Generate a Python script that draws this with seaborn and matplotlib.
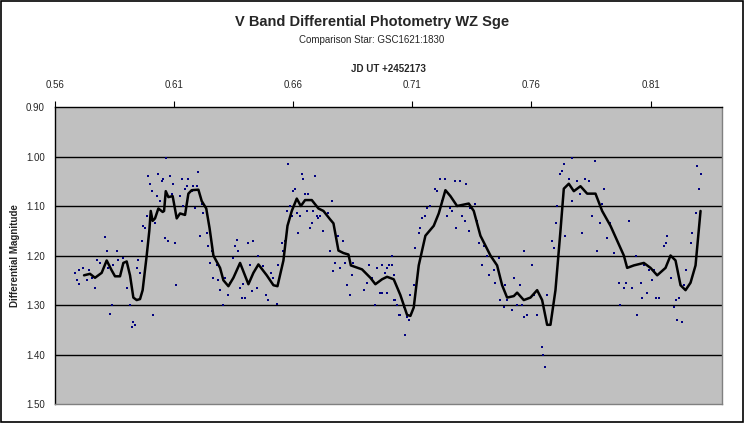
import numpy as np
import pandas as pd
import matplotlib
matplotlib.use('Agg')
import matplotlib.pyplot as plt
import seaborn as sns

# Points individuels (JD - 2452173, magnitude differentielle)
pts_x = [0.5684, 0.5691, 0.5702, 0.5700, 0.5719, 0.5733, 0.5744, 0.5754, 0.5768, 0.5775,
         0.5789, 0.5810, 0.5817, 0.5824, 0.5831, 0.5838, 0.5845, 0.5859, 0.5866, 0.5887,
         0.5901, 0.5915, 0.5922, 0.5929, 0.5936, 0.5943, 0.5950, 0.5957, 0.5964, 0.5971,
         0.5978, 0.5985, 0.5992, 0.5999, 0.6006, 0.6013, 0.6020, 0.6027, 0.6034, 0.6041,
         0.6048, 0.6055, 0.6062, 0.6066, 0.6076, 0.6083, 0.6090, 0.6097, 0.6104, 0.6108,
         0.6125, 0.6132, 0.6139, 0.6146, 0.6153, 0.6160, 0.6174, 0.6181, 0.6188, 0.6195,
         0.6202, 0.6209, 0.6216, 0.6223, 0.6237, 0.6244, 0.6251, 0.6258, 0.6265, 0.6279,
         0.6286, 0.6293, 0.6305, 0.6314, 0.6328, 0.6335, 0.6349, 0.6356, 0.6363, 0.6370,
         0.6377, 0.6384, 0.6391, 0.6398, 0.6412, 0.6419, 0.6426, 0.6433, 0.6447, 0.6454,
         0.6475, 0.6487, 0.6496, 0.6506, 0.6517, 0.6531, 0.6538, 0.6552, 0.6559, 0.6566,
         0.6573, 0.6580, 0.6587, 0.6594, 0.6601, 0.6608, 0.6615, 0.6622, 0.6629, 0.6636,
         0.6643, 0.6650, 0.6657, 0.6664, 0.6671, 0.6678, 0.6685, 0.6692, 0.6699, 0.6706,
         0.6713, 0.6727, 0.6748, 0.6755, 0.6762, 0.6769, 0.6776, 0.6790, 0.6797, 0.6811,
         0.6818, 0.6825, 0.6839, 0.6846, 0.6853, 0.6896, 0.6910, 0.6917, 0.6931, 0.6945,
         0.6952, 0.6966, 0.6973, 0.6994, 0.7015, 0.7022, 0.7029, 0.7036, 0.7043,
         0.6973, 0.6987, 0.6994, 0.7001, 0.7015, 0.7022, 0.7036, 0.7050, 0.7064, 0.7071,
         0.7078, 0.7085, 0.7092, 0.7106, 0.7113, 0.7127, 0.7134, 0.7141, 0.7155, 0.7162,
         0.7176, 0.7197, 0.7204, 0.7218, 0.7225, 0.7239, 0.7246, 0.7260, 0.7267, 0.7281,
         0.7285, 0.7302, 0.7309, 0.7323, 0.7327, 0.7337, 0.7344, 0.7365, 0.7372, 0.7379,
         0.7393, 0.7400, 0.7414, 0.7421, 0.7442, 0.7449, 0.7463, 0.7470, 0.7484, 0.7491,
         0.7498, 0.7519, 0.7526, 0.7540, 0.7554, 0.7561, 0.7568, 0.7568, 0.7582, 0.7603,
         0.7610, 0.7624, 0.7645, 0.7648, 0.7655, 0.7666, 0.7687, 0.7694, 0.7705, 0.7708,
         0.7719, 0.7729, 0.7736, 0.7743, 0.7757, 0.7771, 0.7771, 0.7778, 0.7792, 0.7806,
         0.7813, 0.7827, 0.7841, 0.7855, 0.7869, 0.7876, 0.7890, 0.7897, 0.7904, 0.7918,
         0.7932, 0.7946, 0.7967, 0.7974, 0.7988, 0.7995, 0.8009, 0.8023, 0.8037, 0.8044,
         0.8058, 0.8065, 0.8072, 0.8086, 0.8093, 0.8107, 0.8114, 0.8121, 0.8135, 0.8156,
         0.8163, 0.8170, 0.8184, 0.8198, 0.8205, 0.8212, 0.8219, 0.8233, 0.8240, 0.8247,
         0.8268, 0.8275, 0.8289, 0.8294, 0.8303, 0.8310]
pts_y = [1.235, 1.25, 1.23, 1.258, 1.225, 1.25, 1.23, 1.245, 1.265, 1.21,
         1.215, 1.163, 1.19, 1.225, 1.318, 1.30, 1.22, 1.19, 1.21, 1.205,
         1.265, 1.30, 1.345, 1.335, 1.34, 1.225, 1.21, 1.235, 1.17, 1.14,
         1.145, 1.12, 1.04, 1.055, 1.07, 1.32, 1.135, 1.08, 1.035, 1.09,
         1.05, 1.045, 1.165, 1.003, 1.17, 1.04, 1.075, 1.055, 1.175, 1.26,
         1.08, 1.045, 1.10, 1.065, 1.06, 1.045, 1.07, 1.06, 1.105, 1.06,
         1.032, 1.16, 1.095, 1.115, 1.155, 1.18, 1.215, 1.19, 1.245, 1.22,
         1.25, 1.27, 1.30, 1.245, 1.28, 1.255, 1.205, 1.18, 1.168, 1.19,
         1.265, 1.285, 1.258, 1.285, 1.175, 1.22, 1.272, 1.17, 1.265, 1.20,
         1.222, 1.28, 1.29, 1.235, 1.245, 1.298, 1.22, 1.175, 1.19, 1.17,
         1.11, 1.015, 1.10, 1.12, 1.07, 1.065, 1.115, 1.155, 1.12, 1.035,
         1.045, 1.075, 1.11, 1.075, 1.145, 1.135, 1.11, 1.04, 1.12, 1.125,
         1.12, 1.15, 1.115, 1.19, 1.09, 1.232, 1.215, 1.16, 1.225, 1.17,
         1.215, 1.26, 1.28, 1.24, 1.215, 1.27, 1.255, 1.22, 1.245, 1.30,
         1.225, 1.275, 1.275, 1.225, 1.22, 1.24, 1.29, 1.30, 1.32,
         1.22, 1.235, 1.275, 1.22, 1.20, 1.29, 1.30, 1.32, 1.305, 1.36,
         1.325, 1.33, 1.28, 1.26, 1.185, 1.155, 1.145, 1.125, 1.12, 1.105,
         1.10, 1.065, 1.07, 1.045, 1.09, 1.045, 1.12, 1.105, 1.11, 1.05,
         1.145, 1.05, 1.12, 1.13, 1.055, 1.15, 1.105, 1.095, 1.13, 1.175,
         1.22, 1.18, 1.20, 1.24, 1.23, 1.255, 1.205, 1.29, 1.305, 1.26,
         1.29, 1.31, 1.245, 1.30, 1.26, 1.30, 1.325, 1.19, 1.32, 1.22,
         1.28, 1.32, 1.385, 1.40, 1.425, 1.28, 1.17, 1.185, 1.135, 1.10,
         1.035, 1.03, 1.015, 1.16, 1.045, 1.003, 1.09, 1.07, 1.05, 1.075,
         1.155, 1.045, 1.05, 1.12, 1.01, 1.19, 1.135, 1.095, 1.065, 1.165,
         1.135, 1.195, 1.255, 1.30, 1.265, 1.255, 1.13, 1.265, 1.20, 1.32,
         1.255, 1.285, 1.22, 1.275, 1.23, 1.25, 1.23, 1.285, 1.285, 1.18,
         1.175, 1.16, 1.245, 1.305, 1.29, 1.33, 1.285, 1.335, 1.26, 1.23,
         1.175, 1.155, 1.115, 1.02, 1.065, 1.035]

# Moyenne glissante
avg_x = [0.5722, 0.5747, 0.5768, 0.5796, 0.5817, 0.5838, 0.5852, 0.5873, 0.5887, 0.5901,
         0.5915, 0.5929, 0.5943, 0.5957, 0.5968, 0.5985, 0.5996, 0.6002, 0.6010, 0.6020,
         0.6034, 0.6052, 0.6058, 0.6065, 0.6076, 0.6094, 0.6111, 0.6125, 0.6146, 0.6160,
         0.6174, 0.6202, 0.6216, 0.6235, 0.6249, 0.6265, 0.6293, 0.6307, 0.6328, 0.6349,
         0.6377, 0.6412, 0.6433, 0.6454, 0.6489, 0.6517, 0.6534, 0.6559, 0.6576, 0.6594,
         0.6615, 0.6632, 0.6650, 0.6678, 0.6706, 0.6727, 0.6755, 0.6769, 0.6790, 0.6811,
         0.6832, 0.6842, 0.6889, 0.6924, 0.6945, 0.6973, 0.6994, 0.7022, 0.7050, 0.7078,
         0.7092, 0.7106, 0.7127, 0.7155, 0.7190, 0.7211, 0.7239, 0.7260, 0.7288, 0.7337,
         0.7358, 0.7386, 0.7428, 0.7456, 0.7477, 0.7498, 0.7526, 0.7540, 0.7568, 0.7596,
         0.7624, 0.7645, 0.7666, 0.7680, 0.7701, 0.7722, 0.7736, 0.7757, 0.7778, 0.7806,
         0.7834, 0.7869, 0.7897, 0.7932, 0.7960, 0.7988, 0.8002, 0.8030, 0.8072, 0.8100,
         0.8128, 0.8163, 0.8184, 0.8205, 0.8226, 0.8247, 0.8268, 0.8289, 0.8310]
avg_y = [1.240, 1.237, 1.245, 1.235, 1.21, 1.23, 1.242, 1.242, 1.215, 1.212,
         1.24, 1.285, 1.29, 1.288, 1.27, 1.20, 1.15, 1.11, 1.13, 1.125,
         1.105, 1.112, 1.11, 1.07, 1.082, 1.08, 1.125, 1.115, 1.118, 1.075,
         1.068, 1.067, 1.09, 1.105, 1.145, 1.20, 1.225, 1.25, 1.262, 1.245,
         1.215, 1.258, 1.235, 1.218, 1.24, 1.26, 1.262, 1.21, 1.14, 1.11,
         1.085, 1.10, 1.088, 1.088, 1.105, 1.11, 1.127, 1.135, 1.19, 1.195,
         1.198, 1.22, 1.228, 1.245, 1.258, 1.248, 1.243, 1.248, 1.28, 1.32,
         1.322, 1.305, 1.22, 1.16, 1.14, 1.115, 1.068, 1.08, 1.10, 1.095,
         1.11, 1.16, 1.20, 1.22, 1.26, 1.285, 1.282, 1.275, 1.29, 1.285,
         1.27, 1.29, 1.34, 1.34, 1.27, 1.15, 1.065, 1.055, 1.07, 1.06,
         1.075, 1.075, 1.11, 1.14, 1.17, 1.20, 1.225, 1.22, 1.215, 1.225,
         1.24, 1.225, 1.20, 1.21, 1.26, 1.27, 1.255, 1.22, 1.11]

x_ticks = [0.56, 0.61, 0.66, 0.71, 0.76, 0.81]
y_ticks = [0.90, 1.00, 1.10, 1.20, 1.30, 1.40, 1.50]

sns.set_style('white')
plt.rcParams['font.family'] = ['Liberation Sans', 'DejaVu Sans']

fig = plt.figure(figsize=(7.44, 4.23), dpi=100)
fig.patches.append(plt.Rectangle((0.001, 0.002), 0.997, 0.996, transform=fig.transFigure,
                                 fill=False, edgecolor='black', linewidth=1.2))
ax = fig.add_axes([0.0739, 0.0449, 0.8965, 0.7021])
ax.set_facecolor('#c0c0c0')

for v in y_ticks[1:-1]:
    ax.axhline(v, color='black', linewidth=1, zorder=1)

df_pts = pd.DataFrame({'jd': pts_x, 'mag': pts_y})
df_avg = pd.DataFrame({'jd': avg_x, 'mag': avg_y})
sns.scatterplot(data=df_pts, x='jd', y='mag', ax=ax, marker='s', s=4, color='#000080',
                linewidth=0, zorder=2)
sns.lineplot(data=df_avg, x='jd', y='mag', ax=ax, color='black', linewidth=1.8, zorder=3)

ax.set_xlim(0.56, 0.84)
ax.set_ylim(1.50, 0.90)
ax.xaxis.tick_top()
ax.xaxis.set_label_position('top')
ax.set_xticks(x_ticks)
ax.set_xticklabels([f'{t:.2f}' for t in x_ticks])
ax.set_yticks(y_ticks)
ax.set_yticklabels([f'{t:.2f}' for t in y_ticks])
ax.tick_params(axis='both', labelsize=7, length=4, width=0.8, direction='out', color='black')
ax.tick_params(axis='x', pad=8)
for side in ['top', 'left']:
    ax.spines[side].set_color('black')
    ax.spines[side].set_linewidth(1)
for side in ['right', 'bottom']:
    ax.spines[side].set_color('#808080')
    ax.spines[side].set_linewidth(1)

ax.set_xlabel('JD UT +2452173', fontsize=7, fontweight='bold', labelpad=6)
ax.set_ylabel('Differential Magnitude', fontsize=7, fontweight='bold', labelpad=4)

fig.text(0.5, 0.948, 'V Band Differential Photometry WZ Sge', ha='center', va='center',
         fontsize=10.5, fontweight='bold')
fig.text(0.5, 0.905, 'Comparison Star: GSC1621:1830', ha='center', va='center', fontsize=7)

fig.savefig('out.png', dpi=100)
